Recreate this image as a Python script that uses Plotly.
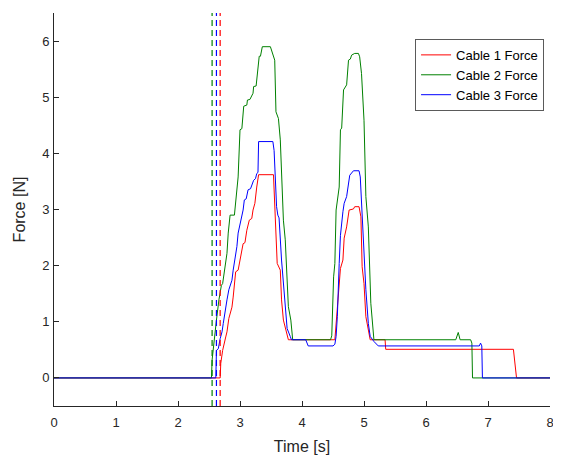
import plotly.graph_objects as go

# ---- data ----
series_names = ["Cable 1 Force", "Cable 2 Force", "Cable 3 Force"]
series_colors = ["#ff0000", "#008000", "#0000ff"]

t1 = [0, 2.68, 2.69, 2.70, 2.72, 2.77, 2.79, 2.82, 2.87, 2.89, 2.93, 2.97, 3.00, 3.03, 3.05,
      3.08, 3.11, 3.15, 3.19, 3.21, 3.24, 3.27, 3.30, 3.54, 3.56, 3.57, 3.60, 3.65, 3.67, 3.70,
      3.74, 3.78, 4.53, 4.56, 4.60, 4.62, 4.66, 4.68, 4.72, 4.76, 4.83, 4.85, 4.92, 4.95, 4.97,
      5.00, 5.03, 5.06, 5.10, 5.34, 5.35, 7.41, 7.46, 8.0]
f1 = [0, 0, 0.26, 0.38, 0.49, 0.73, 0.82, 1.06, 1.26, 1.44, 1.89, 1.92, 2.10, 2.22, 2.39,
      2.41, 2.63, 2.81, 2.84, 2.99, 3.11, 3.40, 3.62, 3.62, 3.17, 2.81, 2.04, 1.92, 1.39, 1.03,
      0.85, 0.68, 0.68, 1.09, 1.74, 1.95, 2.10, 2.49, 2.69, 2.99, 3.01, 3.05, 3.05, 2.87, 1.98,
      1.68, 1.09, 0.91, 0.68, 0.68, 0.51, 0.51, 0, 0]

t2 = [0, 2.54, 2.55, 2.57, 2.60, 2.62, 2.66, 2.70, 2.72, 2.76, 2.79, 2.81, 2.84, 2.91, 2.93,
      2.95, 2.97, 3.00, 3.03, 3.06, 3.11, 3.12, 3.16, 3.21, 3.22, 3.26, 3.30, 3.31, 3.33, 3.36,
      3.49, 3.54, 3.56, 3.58, 3.62, 3.65, 3.67, 3.70, 3.73, 3.78, 3.82, 3.85, 4.46, 4.48, 4.51,
      4.53, 4.55, 4.57, 4.60, 4.62, 4.64, 4.67, 4.70, 4.72, 4.75, 4.78, 4.80, 4.85, 4.91, 4.93,
      4.96, 5.00, 5.03, 5.07, 5.11, 5.14, 5.16, 6.48, 6.52, 6.55, 6.72, 6.74, 6.75, 8.0]
f2 = [0, 0, 0.32, 0.55, 0.79, 1.03, 1.39, 1.65, 1.68, 1.98, 2.22, 2.58, 2.90, 2.90, 3.17,
      3.46, 3.58, 4.42, 4.44, 4.84, 4.86, 4.95, 4.96, 5.07, 5.19, 5.20, 5.69, 5.73, 5.73, 5.90,
      5.90, 5.73, 5.66, 4.74, 4.62, 4.24, 3.52, 2.81, 2.46, 1.27, 1.03, 0.68, 0.68, 0.75, 1.80,
      2.04, 2.99, 3.20, 3.40, 4.42, 4.45, 5.13, 5.19, 5.22, 5.66, 5.68, 5.75, 5.78, 5.78, 5.72,
      5.42, 4.59, 3.23, 2.69, 1.33, 0.85, 0.68, 0.68, 0.81, 0.68, 0.68, 0.62, 0, 0]

t3 = [0, 2.61, 2.62, 2.65, 2.68, 2.71, 2.73, 2.76, 2.79, 2.82, 2.87, 2.89, 2.92, 2.95, 2.97,
      3.02, 3.05, 3.07, 3.10, 3.13, 3.17, 3.22, 3.25, 3.27, 3.29, 3.30, 3.53, 3.55, 3.57, 3.59,
      3.61, 3.63, 3.67, 3.73, 3.76, 3.81, 3.83, 4.06, 4.10, 4.50, 4.53, 4.55, 4.57, 4.60, 4.62,
      4.66, 4.68, 4.72, 4.75, 4.77, 4.83, 4.92, 4.94, 4.97, 5.00, 5.03, 5.07, 5.10, 5.16, 5.23,
      6.86, 6.88, 6.90, 6.91, 8.0]
f3 = [0, 0, 0.49, 0.52, 0.70, 0.82, 0.97, 1.21, 1.39, 1.57, 1.74, 1.92, 2.13, 2.34, 2.58,
      2.81, 2.99, 3.17, 3.19, 3.35, 3.37, 3.52, 3.55, 3.64, 3.66, 4.21, 4.21, 4.05, 3.64, 3.05,
      2.90, 2.85, 2.10, 1.21, 0.88, 0.74, 0.68, 0.68, 0.57, 0.57, 0.60, 0.74, 1.09, 2.04, 2.54,
      2.96, 3.11, 3.23, 3.50, 3.61, 3.69, 3.69, 3.58, 2.93, 2.34, 1.57, 0.97, 0.74, 0.65, 0.57,
      0.57, 0.62, 0.57, 0, 0]

# detected start times of each cable (dashed vertical markers)
start_times = [2.68, 2.55, 2.62]

x_ticks = [0, 1, 2, 3, 4, 5, 6, 7, 8]
y_ticks = [0, 1, 2, 3, 4, 5, 6]

times = [t1, t2, t3]
forces = [f1, f2, f3]

FONT = "Liberation Sans, Arial, Helvetica, sans-serif"
AX = "#262626"

fig = go.Figure()
for name, col, tt, ff in zip(series_names, series_colors, times, forces):
    fig.add_trace(go.Scatter(x=tt, y=ff, mode="lines", name=name,
                             line=dict(color=col, width=1)))

for col, ts in zip(series_colors, start_times):
    fig.add_vline(x=ts, line=dict(color=col, width=1.2, dash="6px,4px"))

# the page body has an 8px default margin, so the figure is 8px smaller
fig.update_layout(
    width=553, height=447,
    margin=dict(l=46, r=11, t=5, b=49),
    paper_bgcolor="white", plot_bgcolor="white",
    font=dict(family=FONT, color=AX, size=13),
    showlegend=True,
    legend=dict(x=0.988, y=0.934, xanchor="right", yanchor="top",
                bgcolor="white", bordercolor="#5a5a5a", borderwidth=1,
                font=dict(size=13, color="#000000", family=FONT),
                tracegroupgap=0, itemwidth=30),
)
fig.update_xaxes(range=[0, 8], tickvals=x_ticks, ticks="inside", ticklen=5,
                 tickcolor=AX, showline=True, linecolor=AX, linewidth=1,
                 showgrid=False, zeroline=False, automargin=False,
                 ticklabelstandoff=4,
                 tickfont=dict(size=13, color=AX, family=FONT),
                 title=dict(text="Time [s]", font=dict(size=16, color=AX, family=FONT), standoff=14))
fig.update_yaxes(range=[-0.5, 6.5], tickvals=y_ticks, ticks="inside", ticklen=5,
                 tickcolor=AX, showline=True, linecolor=AX, linewidth=1,
                 showgrid=False, zeroline=False, automargin=False,
                 ticklabelstandoff=1,
                 tickfont=dict(size=13, color=AX, family=FONT),
                 title=dict(text="Force [N]", font=dict(size=16, color=AX, family=FONT), standoff=12))

fig.write_html("out.html")
